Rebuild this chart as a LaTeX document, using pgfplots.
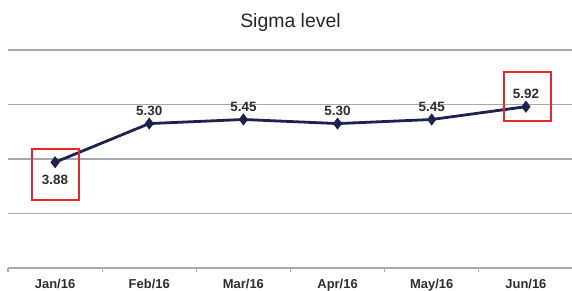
\documentclass[border=0pt]{standalone}
\usepackage{fontspec}
\setmainfont{Liberation Sans}
\usepackage{pgfplots}
\pgfplotsset{compat=1.18}
\definecolor{navy}{RGB}{30,34,76}
\definecolor{gridgray}{RGB}{165,170,175}
\definecolor{lblgray}{RGB}{45,45,45}
\definecolor{boxred}{RGB}{232,40,40}
\begin{document}
\begin{tikzpicture}
\path[use as bounding box] (-8bp,-23bp) rectangle (564bp,268bp);
\begin{axis}[
  scale only axis,
  width=565bp, height=218bp,
  xmin=-0.5, xmax=5.5,
  ymin=0, ymax=8,
  axis x line=bottom,
  axis y line=left,
  y axis line style={draw=none},
  x axis line style={-, gridgray, line width=1.4bp},
  xtick={0,1,2,3,4,5},
  xticklabels={Jan/16,Feb/16,Mar/16,Apr/16,May/16,Jun/16},
  major x tick style={draw=none},
  minor xtick={-0.5,0.5,1.5,2.5,3.5,4.5,5.5},
  minor x tick style={gridgray, line width=1.2bp},
  minor tick length=4bp,
  tick align=outside,
  xticklabel style={anchor=base, yshift=-16bp, font=\fontsize{13}{13}\selectfont\bfseries, text=lblgray},
  ytick={0,2,4,6,8},
  yticklabels={},
  ytick style={draw=none},
  ymajorgrids,
  y grid style={gridgray, line width=1.4bp},
  clip=false,
  title={Sigma level},
  title style={at={(0.5,1)}, anchor=base, yshift=17bp, font=\fontsize{19.5}{19.5}\selectfont, text=black!85},
]
\addplot[navy, line width=2.8bp, mark=diamond*, mark size=3.8bp, mark options={solid}]
  coordinates {(0,3.88) (1,5.30) (2,5.45) (3,5.30) (4,5.45) (5,5.92)};
\addplot[draw=none, mark=none, nodes near coords, point meta=explicit symbolic,
  nodes near coords style={anchor=base, yshift=8bp, font=\fontsize{13.5}{13.5}\selectfont\bfseries, text=lblgray, inner sep=0pt}]
  coordinates {(1,5.30)[5.30] (2,5.45)[5.45] (3,5.30)[5.30] (4,5.45)[5.45] (5,5.92)[5.92]};
\addplot[draw=none, mark=none, nodes near coords, point meta=explicit symbolic,
  nodes near coords style={anchor=base, yshift=-22.5bp, font=\fontsize{13.5}{13.5}\selectfont\bfseries, text=lblgray, inner sep=0pt}]
  coordinates {(0,3.88)[3.88]};
\draw[boxred, line width=2bp] (axis cs:-0.247,2.50) rectangle (axis cs:0.252,4.37);
\draw[boxred, line width=2bp] (axis cs:4.772,5.39) rectangle (axis cs:5.27,7.19);
\end{axis}
\end{tikzpicture}
\end{document}
